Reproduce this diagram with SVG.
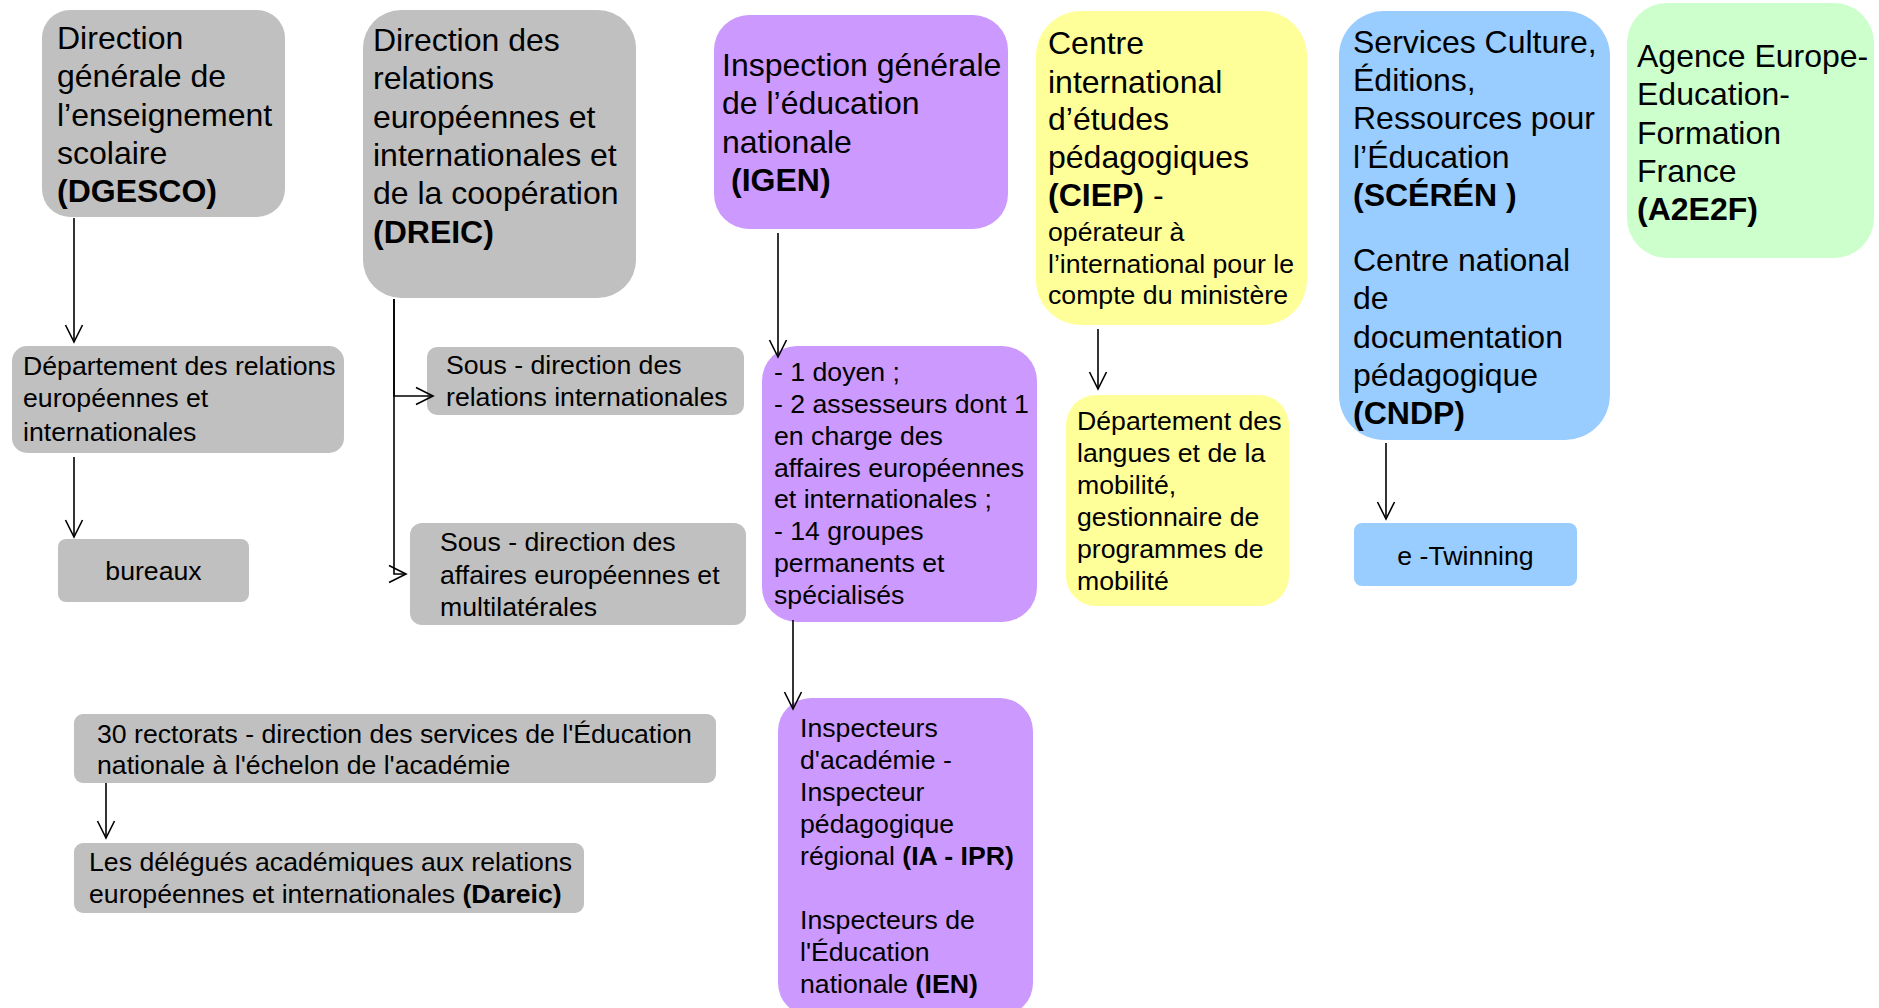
<svg xmlns="http://www.w3.org/2000/svg" width="1879" height="1008" viewBox="0 0 1879 1008">
<style>
text{font-family:"Liberation Sans",Arial,sans-serif;fill:#000}
.L{font-size:32px}
.S{font-size:26.67px}
.b{font-weight:bold}
.gray{fill:#c0c0c0}
.purple{fill:#cc99ff}
.yellow{fill:#ffff99}
.blue{fill:#99ccff}
.green{fill:#ccffcc}
.c{text-anchor:middle}
.conn path{fill:none;stroke:#000;stroke-width:1.6}
</style>
<defs>
<marker id="arr" markerUnits="userSpaceOnUse" viewBox="-20 -11 22 22" refX="0" refY="0" markerWidth="22" markerHeight="22" orient="auto">
<path d="M-17,-8.5 L0,0 L-17,8.5" fill="none" stroke="#000" stroke-width="1.6"/>
</marker>
</defs>
<rect width="1879" height="1008" fill="#fff"/>

<g id="dgesco">
<rect class="gray" x="42" y="10" width="243" height="207" rx="28"/>
<text class="L" x="57"><tspan x="57" y="49">Direction</tspan><tspan x="57" y="87">générale de</tspan><tspan x="57" y="126">l’enseignement</tspan><tspan x="57" y="164">scolaire</tspan><tspan x="57" y="202" class="b">(DGESCO)</tspan></text>
</g>

<g id="dreic">
<rect class="gray" x="363" y="10" width="273" height="288" rx="38"/>
<text class="L"><tspan x="373" y="51">Direction des</tspan><tspan x="373" y="89">relations</tspan><tspan x="373" y="128">européennes et</tspan><tspan x="373" y="166">internationales et</tspan><tspan x="373" y="204">de la coopération</tspan><tspan x="373" y="243" class="b">(DREIC)</tspan></text>
</g>

<g id="igen">
<rect class="purple" x="714" y="15" width="294" height="214" rx="35"/>
<text class="L"><tspan x="722" y="76">Inspection générale</tspan><tspan x="722" y="114">de l’éducation</tspan><tspan x="722" y="153">nationale</tspan><tspan x="731" y="191" class="b">(IGEN)</tspan></text>
</g>

<g id="ciep">
<rect class="yellow" x="1036" y="11" width="271" height="314" rx="45"/>
<text class="L"><tspan x="1048" y="54">Centre</tspan><tspan x="1048" y="93">international</tspan><tspan x="1048" y="130">d’études</tspan><tspan x="1048" y="168">pédagogiques</tspan><tspan x="1048" y="206" class="b">(CIEP)</tspan><tspan> -</tspan></text>
<text class="S"><tspan x="1048" y="241">opérateur à</tspan><tspan x="1048" y="273">l’international pour le</tspan><tspan x="1048" y="304">compte du ministère</tspan></text>
</g>

<g id="sceren">
<rect class="blue" x="1339" y="11" width="271" height="429" rx="45"/>
<text class="L"><tspan x="1353" y="53">Services Culture,</tspan><tspan x="1353" y="91">Éditions,</tspan><tspan x="1353" y="129">Ressources pour</tspan><tspan x="1353" y="168">l’Éducation</tspan><tspan x="1353" y="206" class="b">(SCÉRÉN )</tspan><tspan x="1353" y="271">Centre national</tspan><tspan x="1353" y="309">de</tspan><tspan x="1353" y="348">documentation</tspan><tspan x="1353" y="386">pédagogique</tspan><tspan x="1353" y="424" class="b">(CNDP)</tspan></text>
</g>

<g id="a2e2f">
<rect class="green" x="1627" y="3" width="247" height="255" rx="40"/>
<text class="L"><tspan x="1637" y="67">Agence Europe-</tspan><tspan x="1637" y="105">Education-</tspan><tspan x="1637" y="144">Formation</tspan><tspan x="1637" y="182">France</tspan><tspan x="1637" y="220" class="b">(A2E2F)</tspan></text>
</g>

<g id="drei">
<rect class="gray" x="12" y="346" width="332" height="107" rx="15"/>
<text class="S"><tspan x="23" y="375">Département des relations</tspan><tspan x="23" y="407">européennes et</tspan><tspan x="23" y="441">internationales</tspan></text>
</g>

<g id="bureaux">
<rect class="gray" x="58" y="539" width="191" height="63" rx="8"/>
<text class="S c" x="153.5" y="580">bureaux</text>
</g>

<g id="sdri">
<rect class="gray" x="427" y="347" width="317" height="68" rx="10"/>
<text class="S"><tspan x="446" y="374">Sous - direction des</tspan><tspan x="446" y="406">relations internationales</tspan></text>
</g>

<g id="sdaem">
<rect class="gray" x="410" y="523" width="336" height="102" rx="12"/>
<text class="S"><tspan x="440" y="551">Sous - direction des</tspan><tspan x="440" y="584">affaires européennes et</tspan><tspan x="440" y="616">multilatérales</tspan></text>
</g>

<g id="igen-details">
<rect class="purple" x="762" y="346" width="275" height="276" rx="35"/>
<text class="S"><tspan x="774" y="381">- 1 doyen ;</tspan><tspan x="774" y="413">- 2 assesseurs dont 1</tspan><tspan x="774" y="445">en charge des</tspan><tspan x="774" y="477">affaires européennes</tspan><tspan x="774" y="508">et internationales ;</tspan><tspan x="774" y="540">- 14 groupes</tspan><tspan x="774" y="572">permanents et</tspan><tspan x="774" y="604">spécialisés</tspan></text>
</g>

<g id="inspecteurs">
<rect class="purple" x="778" y="698" width="255" height="318" rx="33"/>
<text class="S"><tspan x="800" y="737">Inspecteurs</tspan><tspan x="800" y="769">d'académie -</tspan><tspan x="800" y="801">Inspecteur</tspan><tspan x="800" y="833">pédagogique</tspan><tspan x="800" y="865">régional </tspan><tspan class="b">(IA - IPR)</tspan><tspan x="800" y="929">Inspecteurs de</tspan><tspan x="800" y="961">l'Éducation</tspan><tspan x="800" y="993">nationale </tspan><tspan class="b">(IEN)</tspan></text>
</g>

<g id="ciep-dept">
<rect class="yellow" x="1066" y="395" width="223" height="211" rx="30"/>
<text class="S"><tspan x="1077" y="430">Département des</tspan><tspan x="1077" y="462">langues et de la</tspan><tspan x="1077" y="494">mobilité,</tspan><tspan x="1077" y="526">gestionnaire de</tspan><tspan x="1077" y="558">programmes de</tspan><tspan x="1077" y="590">mobilité</tspan></text>
</g>

<g id="etwinning">
<rect class="blue" x="1354" y="523" width="223" height="63" rx="8"/>
<text class="S c" x="1465.5" y="565">e -Twinning</text>
</g>

<g id="rectorats">
<rect class="gray" x="74" y="714" width="642" height="69" rx="9"/>
<text class="S"><tspan x="97" y="743">30 rectorats - direction des services de l'Éducation</tspan><tspan x="97" y="774">nationale à l'échelon de l'académie</tspan></text>
</g>

<g id="dareic">
<rect class="gray" x="74" y="843" width="510" height="70" rx="9"/>
<text class="S"><tspan x="89" y="871">Les délégués académiques aux relations</tspan><tspan x="89" y="903">européennes et internationales </tspan><tspan class="b">(Dareic)</tspan></text>
</g>

<g id="connectors" class="conn">
<path d="M74,218 V342" marker-end="url(#arr)"/>
<path d="M74,457 V537" marker-end="url(#arr)"/>
<path d="M394,299 V396 H433" marker-end="url(#arr)"/>
<path d="M394,299 V574 H406" marker-end="url(#arr)"/>
<path d="M778,233 V357" marker-end="url(#arr)"/>
<path d="M793,620 V709" marker-end="url(#arr)"/>
<path d="M1098,329 V389" marker-end="url(#arr)"/>
<path d="M1386,443 V519" marker-end="url(#arr)"/>
<path d="M106,783 V838" marker-end="url(#arr)"/>
</g>
</svg>
